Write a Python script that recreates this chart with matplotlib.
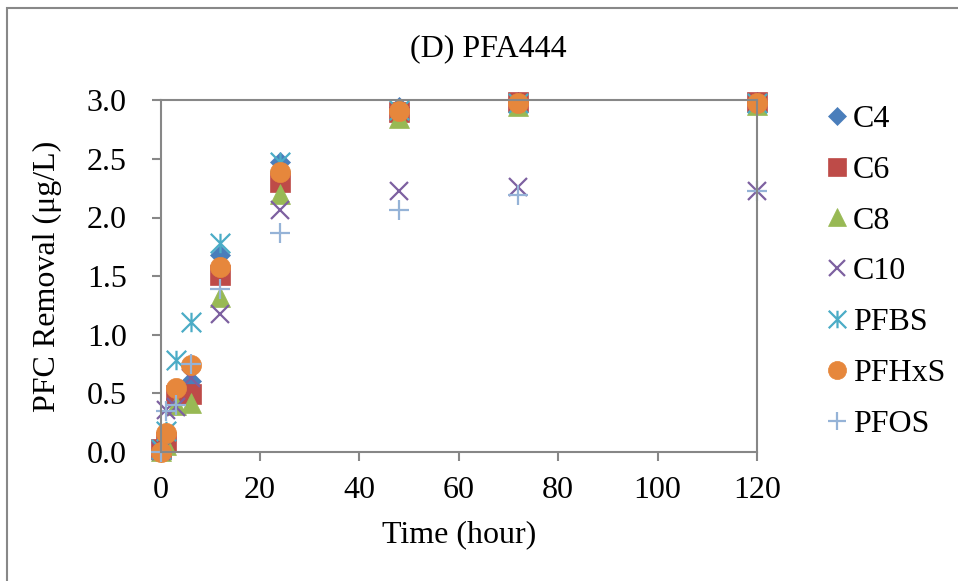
import matplotlib
matplotlib.use("Agg")
import matplotlib.pyplot as plt
from matplotlib.path import Path
from matplotlib.patches import Rectangle

plt.rcParams['font.family'] = ['Liberation Serif', 'DejaVu Serif']

time_h = [0, 1, 3, 6, 12, 24, 48, 72, 120]
series_names = ["C4", "C6", "C8", "C10", "PFBS", "PFHxS", "PFOS"]
c4 = [0.00, 0.10, 0.45, 0.60, 1.68, 2.47, 2.94, 2.99, 2.99]
c6 = [0.02, 0.08, 0.48, 0.49, 1.51, 2.30, 2.90, 2.99, 2.99]
c8 = [0.01, 0.06, 0.40, 0.42, 1.32, 2.20, 2.85, 2.95, 2.96]
c10 = [0.01, 0.36, 0.38, 0.63, 1.18, 2.06, 2.23, 2.26, 2.23]
pfbs = [0.02, 0.18, 0.78, 1.11, 1.78, 2.47, 2.92, 2.98, 2.98]
pfhxs = [0.00, 0.16, 0.54, 0.74, 1.58, 2.39, 2.91, 2.98, 2.98]
pfos = [0.00, 0.35, 0.40, 0.75, 1.39, 1.87, 2.06, 2.19, 2.23]
x_ticks = [0, 20, 40, 60, 80, 100, 120]
y_ticks = [0.0, 0.5, 1.0, 1.5, 2.0, 2.5, 3.0]

star = Path([(0, -1), (0, 1), (-1, -1), (1, 1), (-1, 1), (1, -1)],
            [Path.MOVETO, Path.LINETO, Path.MOVETO, Path.LINETO, Path.MOVETO, Path.LINETO])

styles = [
    dict(marker='D', color='#4A7EBB', ms=10.5, filled=True),
    dict(marker='s', color='#BE4B48', ms=14, filled=True),
    dict(marker='^', color='#98B954', ms=14, filled=True),
    dict(marker='x', color='#7D60A0', ms=13, filled=False),
    dict(marker=star, color='#4BACC6', ms=14, filled=False),
    dict(marker='o', color='#E6873C', ms=14.5, filled=True),
    dict(marker='+', color='#95B3D7', ms=15, filled=False),
]
data = [c4, c6, c8, c10, pfbs, pfhxs, pfos]

FS = 23

fig = plt.figure(figsize=(9.58, 5.81), dpi=100)
ax = fig.add_axes([160.7/958, 1-451.7/581, (757-160.7)/958, (451.7-100.4)/581])

for name, vals, st in zip(series_names, data, styles):
    if st['filled']:
        ax.plot(time_h, vals, linestyle='none', marker=st['marker'], markersize=st['ms'],
                markerfacecolor=st['color'], markeredgecolor=st['color'], markeredgewidth=0.5,
                label=name, clip_on=False)
    else:
        ax.plot(time_h, vals, linestyle='none', marker=st['marker'], markersize=st['ms'],
                color=st['color'], markeredgewidth=1.6, label=name, clip_on=False)

ax.set_xlim(0, 120)
ax.set_ylim(0, 3.0)
ax.set_xticks(x_ticks)
ax.set_yticks(y_ticks)
ax.set_yticklabels([f"{v:.1f}" for v in y_ticks])
ax.set_xticklabels([str(v) for v in x_ticks])

for sp in ax.spines.values():
    sp.set_color('#878787')
    sp.set_linewidth(1.5)
ax.tick_params(axis='both', colors='#878787', labelcolor='black', labelsize=FS,
               width=1.5, length=6.5, direction='out')
ax.tick_params(axis='y', pad=18)
ax.tick_params(axis='x', pad=11)

ax.set_title("(D) PFA444", fontsize=FS, pad=32, x=(488-160.7)/(757-160.7))
ax.set_xlabel("Time (hour)", fontsize=FS, labelpad=11)
ax.set_ylabel("PFC Removal (μg/L)", fontsize=FS, labelpad=18)

leg = ax.legend(loc='upper left', bbox_to_anchor=(813/958, 1-92/581), bbox_transform=fig.transFigure,
                frameon=False, fontsize=FS, handlelength=0.7, handletextpad=0.15,
                labelspacing=0.67, borderaxespad=0, markerscale=0.9)

fig.patches.append(Rectangle((7/958, -0.05), 1.2, 1.05 - 8/581, transform=fig.transFigure,
                             fill=False, edgecolor='#888888', linewidth=1.5))

fig.savefig("out.png", dpi=100)
